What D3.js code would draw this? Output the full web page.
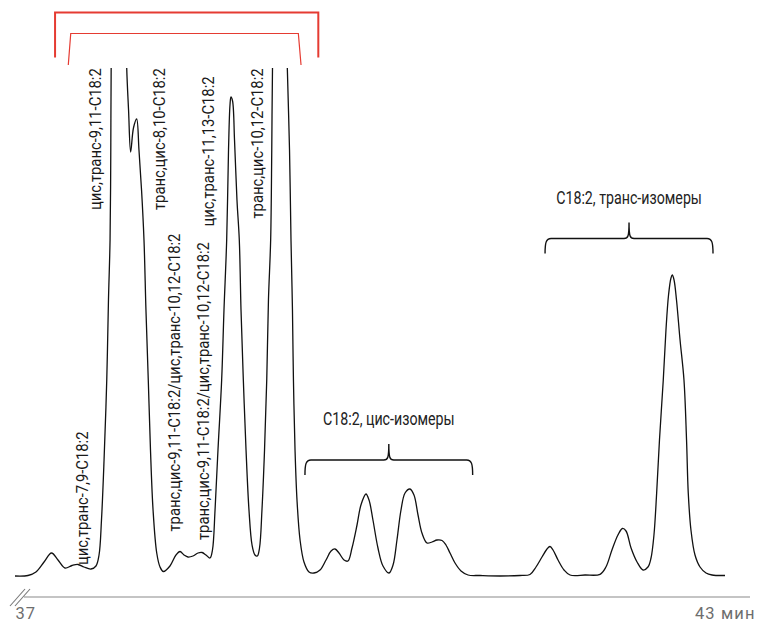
<!DOCTYPE html>
<html>
<head>
<meta charset="utf-8">
<script src="https://cdn.jsdelivr.net/npm/d3@7"></script>
<style>
  html, body { margin: 0; padding: 0; background: #fff; }
  svg { display: block; }
</style>
</head>
<body>
<svg id="chart" width="757" height="624"></svg>
<script>
// Chromatogram trace: retention time (min) and detector response (arbitrary units)
const retentionTime = [
  37.000, 37.106, 37.171, 37.237, 37.298, 37.351, 37.408, 37.465, 37.514, 37.563,
  37.620, 37.661, 37.686, 37.706, 37.727, 37.749, 37.763, 37.776, 37.782, 37.785,
  37.800, 37.849, 37.898, 37.912, 37.927, 37.944, 37.967, 37.993, 38.012, 38.033,
  38.053, 38.069, 38.088, 38.106, 38.127, 38.157, 38.184, 38.211, 38.265, 38.314,
  38.347, 38.380, 38.412, 38.453, 38.494, 38.527, 38.559, 38.592, 38.612, 38.633,
  38.657, 38.687, 38.706, 38.728, 38.743, 38.755, 38.763, 38.776, 38.792, 38.812,
  38.831, 38.845, 38.864, 38.886, 38.910, 38.935, 38.959, 38.978, 38.996, 39.016,
  39.037, 39.055, 39.069, 39.087, 39.096, 39.102, 39.122, 39.163, 39.204, 39.223,
  39.241, 39.253, 39.265, 39.273, 39.286, 39.302, 39.327, 39.359, 39.400, 39.441,
  39.490, 39.539, 39.580, 39.612, 39.645, 39.686, 39.718, 39.751, 39.792, 39.824,
  39.865, 39.890, 39.922, 39.963, 40.004, 40.053, 40.086, 40.118, 40.151, 40.184,
  40.224, 40.257, 40.290, 40.322, 40.363, 40.404, 40.445, 40.486, 40.518, 40.551,
  40.592, 40.641, 40.698, 40.796, 40.959, 41.122, 41.204, 41.253, 41.302, 41.343,
  41.367, 41.392, 41.433, 41.482, 41.531, 41.653, 41.776, 41.824, 41.873, 41.922,
  41.959, 41.988, 42.029, 42.078, 42.127, 42.167, 42.192, 42.216, 42.238, 42.261,
  42.292, 42.314, 42.335, 42.355, 42.366, 42.380, 42.400, 42.429, 42.461, 42.482,
  42.496, 42.518, 42.551, 42.592, 42.641, 42.690, 42.796
];
const detectorSignal = [
  0.0, 0.1, 0.8, 2.8, 4.6, 3.2, 1.6, 2.1, 2.3, 1.8,
  1.4, 2.0, 4.2, 11.2, 23.2, 39.2, 55.2, 67.2, 85.2, 101.6,
  123.2, 145.2, 123.2, 101.6, 93.2, 84.8, 89.6, 91.4, 85.2, 77.2,
  67.2, 53.2, 39.2, 25.2, 13.2, 4.6, 1.8, 0.9, 2.0, 4.2,
  4.9, 4.2, 3.8, 4.0, 4.6, 4.7, 4.2, 3.6, 5.2, 13.2,
  25.2, 39.2, 53.2, 67.2, 85.2, 94.2, 95.8, 95.0, 87.2, 75.2,
  67.2, 53.2, 39.2, 25.2, 13.2, 6.2, 4.2, 4.0, 5.6, 13.2,
  25.2, 39.2, 55.2, 67.2, 85.2, 101.6, 123.2, 145.2, 123.2, 101.6,
  85.2, 67.2, 53.2, 39.2, 25.2, 15.2, 7.2, 2.8, 0.8, 0.6,
  1.2, 3.2, 5.0, 5.4, 4.6, 3.2, 3.0, 5.6, 10.2, 14.2,
  16.4, 15.2, 11.2, 5.6, 2.0, 0.6, 2.2, 7.2, 13.2, 16.6,
  17.4, 16.2, 12.2, 8.6, 6.6, 6.8, 7.2, 7.1, 6.2, 4.6,
  2.6, 1.0, 0.2, 0.1, 0.0, 0.1, 0.3, 1.8, 3.8, 5.4,
  5.9, 5.2, 3.2, 1.2, 0.2, 0.2, 0.34, 1.8, 5.2, 8.2,
  9.5, 9.0, 5.6, 2.8, 1.2, 1.8, 3.6, 8.2, 16.6, 27.2,
  39.2, 49.2, 56.2, 59.6, 60.2, 59.2, 55.2, 47.2, 39.2, 27.2,
  16.6, 9.2, 4.2, 1.8, 0.6, 0.2, 0.1
];

// Peak identifications, written vertically beside each peak
const peakLabelText = [
  "цис,транс-7,9-C18:2",
  "цис,транс-9,11-C18:2",
  "транс,цис-8,10-C18:2",
  "транс,цис-9,11-C18:2/цис,транс-10,12-C18:2",
  "транс,цис-9,11-C18:2/цис,транс-10,12-C18:2",
  "цис,транс-11,13-C18:2",
  "транс,цис-10,12-C18:2"
];
const peakLabelTime   = [37.598, 37.706, 38.224, 38.347, 38.584, 38.624, 39.024];
const peakLabelSignal = [2.2, 73.2, 73.2, 8.9, 7.2, 69.9, 71.5];

// Isomer groups marked with curly braces
const groupLabelText = ["C18:2, цис-изомеры", "C18:2, транс-изомеры"];
const groupStart = [39.367, 41.327];
const groupEnd   = [40.736, 42.698];
const groupLevel = [23.2, 67.5];

// Off-scale region (two nested red brackets)
const offScaleFootStart = [37.327, 37.435];
const offScaleTopStart  = [37.327, 37.455];
const offScaleTopEnd    = [39.476, 39.313];
const offScaleFootEnd   = [39.476, 39.335];
const offScaleFoot = [103.7, 102.2];
const offScaleTop  = [112.7, 108.5];

// Time axis
const tickValues = [37, 43];
const tickLabels = ["37", "43 мин"];

// ---------------------------------------------------------------
const W = 757, H = 624;
const svg = d3.select("#chart");

const x = d3.scaleLinear().domain([37, 43]).range([15, 750]);
const y = d3.scaleLinear().domain([0, 100]).range([576, 76]);

const FONT = "Roboto, 'Noto Sans', sans-serif";
const LABEL_CONDENSE = 0.87;
const GROUP_CONDENSE = 0.79;

// clip the trace at the top of the recorder range
svg.append("defs").append("clipPath").attr("id", "plotClip")
  .append("rect").attr("x", 0).attr("y", y(101.6)).attr("width", W).attr("height", H);

const trace = retentionTime.map((t, i) => [t, detectorSignal[i]]);
const line = d3.line()
  .x(d => x(d[0]))
  .y(d => y(d[1]))
  .curve(d3.curveCatmullRom.alpha(0.5));

svg.append("path")
  .datum(trace)
  .attr("clip-path", "url(#plotClip)")
  .attr("d", line)
  .attr("fill", "none")
  .attr("stroke", "#111")
  .attr("stroke-width", 1.3)
  .attr("stroke-linejoin", "round");

// red brackets over the off-scale peaks
offScaleFoot.forEach((_, i) => {
  svg.append("path")
    .attr("d", `M${x(offScaleFootStart[i])},${y(offScaleFoot[i])}` +
               `L${x(offScaleTopStart[i])},${y(offScaleTop[i])}` +
               `L${x(offScaleTopEnd[i])},${y(offScaleTop[i])}` +
               `L${x(offScaleFootEnd[i])},${y(offScaleFoot[i])}`)
    .attr("fill", "none")
    .attr("stroke", "#e53b32")
    .attr("stroke-width", i === 0 ? 2 : 1.2);
});

// vertical peak labels
svg.append("g").selectAll("text")
  .data(peakLabelText)
  .join("text")
  .attr("transform", (d, i) =>
    `translate(${x(peakLabelTime[i])},${y(peakLabelSignal[i])}) rotate(-90) scale(${LABEL_CONDENSE},1)`)
  .attr("font-family", FONT)
  .attr("font-size", 17)
  .attr("fill", "#1a1a1a")
  .text(d => d);

// curly braces with group labels
groupLabelText.forEach((label, i) => {
  const xs = x(groupStart[i]), xe = x(groupEnd[i]);
  const xm = (xs + xe) / 2, yl = y(groupLevel[i]);
  svg.append("path")
    .attr("d",
      `M${xs},${yl + 15} C${xs},${yl + 4} ${xs + 1},${yl} ${xs + 6},${yl}` +
      ` L${xm - 5},${yl} C${xm - 1},${yl} ${xm},${yl - 2} ${xm},${yl - 16}` +
      ` C${xm},${yl - 2} ${xm + 1},${yl} ${xm + 5},${yl}` +
      ` L${xe - 6},${yl} C${xe - 1},${yl} ${xe},${yl + 4} ${xe},${yl + 15}`)
    .attr("fill", "none")
    .attr("stroke", "#111")
    .attr("stroke-width", 1.4);
  svg.append("text")
    .attr("transform", `translate(${xm},${yl - 35}) scale(${GROUP_CONDENSE},1)`)
    .attr("text-anchor", "middle")
    .attr("font-family", FONT)
    .attr("font-size", 18)
    .attr("fill", "#222")
    .text(label);
});

// time axis
const axis = d3.axisBottom(x)
  .tickValues(tickValues)
  .tickSize(0)
  .tickPadding(10)
  .tickFormat((d, i) => tickLabels[i]);

const gAxis = svg.append("g").attr("transform", "translate(0,597)").call(axis);
gAxis.select(".domain")
  .attr("d", `M${x(37) + 9},0H${x(43)}`)
  .attr("stroke", "#8a8a8a")
  .attr("stroke-width", 1.2);
gAxis.selectAll(".tick text")
  .attr("font-family", FONT)
  .attr("font-size", 16.5)
  .attr("letter-spacing", 1.1)
  .attr("fill", "#6e6e6e")
  .attr("text-anchor", (d, i) => i === 0 ? "start" : "end")
  .attr("dx", (d, i) => i === 0 ? 0 : 5);

// axis break mark
[0, 5].forEach(off => {
  gAxis.append("line")
    .attr("x1", x(37) - 5 + off).attr("y1", 9)
    .attr("x2", x(37) + 10 + off).attr("y2", -8)
    .attr("stroke", "#777")
    .attr("stroke-width", 1.1);
});
</script>
</body>
</html>
